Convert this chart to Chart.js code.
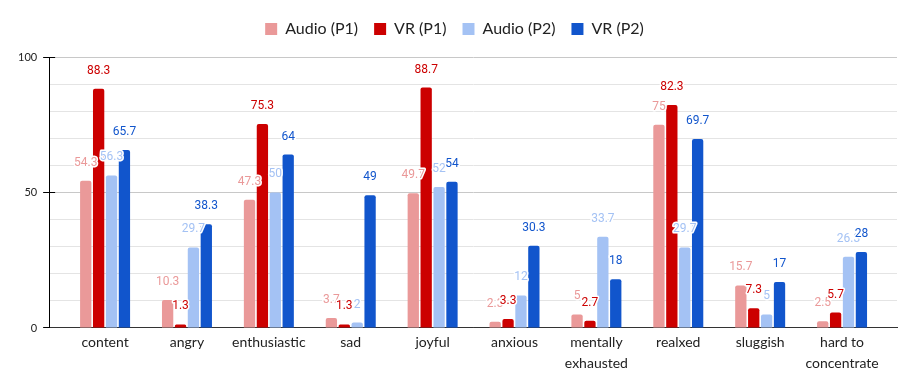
<!DOCTYPE html>
<html><head><meta charset="utf-8">
<script src="https://cdn.jsdelivr.net/npm/chart.js@4"></script>
<style>html,body{margin:0;padding:0;background:#fff}canvas{display:block}</style>
</head><body>
<canvas id="c" width="917" height="391"></canvas>
<script>
const categories = ['content','angry','enthusiastic','sad','joyful','anxious',['mentally','exhausted'],'realxed','sluggish',['hard to','concentrate']];
const seriesNames = ['Audio (P1)','VR (P1)','Audio (P2)','VR (P2)'];
const audioP1 = [54.3,10.3,47.3,3.7,49.7,2.3,5,75,15.7,2.5];
const vrP1    = [88.3,1.3,75.3,1.3,88.7,3.3,2.7,82.3,7.3,5.7];
const audioP2 = [56.3,29.7,50,2,52,12,33.7,29.7,5,26.3];
const vrP2    = [65.7,38.3,64,49,54,30.3,18,69.7,17,28];
const yTickLabels = [0,50,100];

const colors = ['#ea9999','#cc0000','#a4c2f4','#1155cc'];
const seriesData = [audioP1, vrP1, audioP2, vrP2];

const insetPlugin = {
  id: 'inset',
  afterLayout(chart) {
    const s = chart.scales.x;
    s._startPixel = s.left + 15;
    s._endPixel = s.right - 14;
    s._length = s._endPixel - s._startPixel;
  },
  afterDatasetsDraw(chart) {
    const ctx = chart.ctx;
    ctx.save();
    ctx.font = '12px Roboto';
    ctx.textAlign = 'center';
    ctx.textBaseline = 'middle';
    ctx.lineJoin = 'round';
    chart.data.datasets.forEach((ds, i) => {
      const meta = chart.getDatasetMeta(i);
      meta.data.forEach((bar, j) => {
        const txt = String(ds.data[j]);
        const y = bar.y - 18;
        ctx.lineWidth = 3;
        ctx.strokeStyle = '#fff';
        ctx.strokeText(txt, bar.x, y);
        ctx.fillStyle = ds.backgroundColor;
        ctx.fillText(txt, bar.x, y);
      });
    });
    ctx.restore();
  },
  afterDraw(chart) {
    const ctx = chart.ctx, y = chart.scales.y, left = chart.chartArea.left;
    ctx.save();
    ctx.strokeStyle = '#000';
    ctx.lineWidth = 1;
    yTickLabels.forEach(v => {
      if (v === 0) return;
      const py = Math.round(y.getPixelForValue(v)) + 0.5;
      ctx.beginPath(); ctx.moveTo(left, py); ctx.lineTo(left + 6, py); ctx.stroke();
    });
    ctx.restore();
  }
};

new Chart(document.getElementById('c'), {
  type: 'bar',
  data: {
    labels: categories,
    datasets: seriesNames.map((n, i) => ({
      label: n,
      data: seriesData[i],
      backgroundColor: colors[i],
      borderWidth: 0,
      borderRadius: 2,
      categoryPercentage: 0.63,
      barPercentage: 0.876
    }))
  },
  options: {
    responsive: false,
    animation: false,
    layout: { padding: { top: 5, left: 12, right: 20, bottom: 13 } },
    plugins: {
      legend: {
        position: 'top',
        labels: { boxWidth: 12, boxHeight: 12, padding: 16, color: '#222', font: { family: 'Lato', size: 16 } }
      },
      subtitle: { display: true, text: '', weight: 500, padding: 0, font: { size: 10, lineHeight: 1 } },
      tooltip: { enabled: false }
    },
    scales: {
      x: {
        grid: { display: false, drawTicks: false, tickLength: 0 },
        border: { display: true, color: '#333', width: 1 },
        ticks: { color: '#222', padding: 5, maxRotation: 0, autoSkip: false, font: { family: 'Lato', size: 14, lineHeight: 1.43 } }
      },
      y: {
        min: 0, max: 100,
        border: { display: true, color: '#000', width: 1 },
        grid: {
          drawTicks: true,
          tickLength: 6,
          color: c => c.tick.value === 0 ? '#333' : (c.tick.value % 50 === 0 ? '#c8c8c8' : '#e4e4e4'),
          tickColor: c => yTickLabels.includes(c.tick.value) ? '#000' : 'rgba(0,0,0,0)'
        },
        ticks: {
          stepSize: 10,
          padding: 6,
          color: '#222',
          font: { family: 'Lato', size: 11 },
          callback: v => yTickLabels.includes(v) ? String(v) : ''
        }
      }
    }
  },
  plugins: [insetPlugin]
});
</script>
</body></html>
